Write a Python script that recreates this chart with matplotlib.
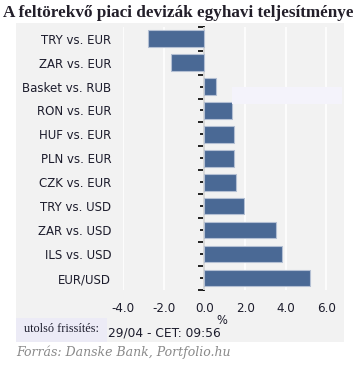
import matplotlib
matplotlib.use('Agg')
import matplotlib.pyplot as plt
from matplotlib.patches import Rectangle

labels = ['TRY vs. EUR', 'ZAR vs. EUR', 'Basket vs. RUB', 'RON vs. EUR', 'HUF vs. EUR',
          'PLN vs. EUR', 'CZK vs. EUR', 'TRY vs. USD', 'ZAR vs. USD', 'ILS vs. USD', 'EUR/USD']
values = [-2.79, -1.65, 0.56, 1.36, 1.44, 1.46, 1.56, 1.97, 3.54, 3.80, 5.17]
xticks = [-4.0, -2.0, 0.0, 2.0, 4.0, 6.0]

W, H = 359, 366
fig = plt.figure(figsize=(W / 100, H / 100), dpi=100)

def px(x0, y0, x1, y1):
    # pixel box -> figure fraction (left, bottom, width, height)
    return x0 / W, 1 - y1 / H, (x1 - x0) / W, (y1 - y0) / H

# gray panel behind the chart
l, b, w, h = px(16, 23, 344, 342)
fig.patches.append(Rectangle((l, b), w, h, transform=fig.transFigure,
                             facecolor='#f2f2f2', edgecolor='none', zorder=-1))

ax = fig.add_axes(px(123, 26.7, 344, 290))
ax.set_zorder(2)
ax.set_facecolor('none')
ypos = range(len(labels))
ax.barh(ypos, values, height=0.69, color='#4a6995', edgecolor='#b3bfd3', linewidth=0.8, zorder=3)
ax.set_ylim(len(labels) - 0.5, -0.5)
ax.set_xlim(-4, 6.86)

ax.set_yticks(list(ypos))
ax.set_yticklabels(labels)
ax.tick_params(axis='y', length=0, pad=8.5, labelsize=8.5, labelcolor='#1c1c2c')
ax.set_xticks(xticks)
ax.set_xticklabels(['%.1f' % t for t in xticks])
ax.tick_params(axis='x', length=0, pad=9, labelsize=8.6, labelcolor='#1c1c2c')
ax.grid(axis='x', color='white', linewidth=1.2, zorder=1)
for s in ax.spines.values():
    s.set_visible(False)

# zero axis with ticks
sec = ax.secondary_yaxis(0, transform=ax.transData)
sec.spines['left'].set_color('black')
sec.spines['left'].set_linewidth(1.3)
sec.set_yticks([i - 0.5 for i in range(len(labels) + 1)])
sec.set_yticks(list(ypos), minor=True)
sec.tick_params(which='major', length=4, width=1.2, color='black', labelleft=False)
sec.tick_params(which='minor', length=3, width=1.2, color='black', labelleft=False)

fig.text(221.5 / W, 1 - 320.5 / H, '%', ha='center', va='center', fontsize=8.3, color='#1c1c2c')

# stray tooltip box
l, b, w, h = px(231.5, 86.7, 342, 104.3)
ax.add_artist(Rectangle((l, b), w, h, transform=fig.transFigure, clip_on=False,
                        facecolor='#f4f3fb', edgecolor='none', zorder=5))

# update stamp
l, b, w, h = px(16, 318, 107, 342)
fig.patches.append(Rectangle((l, b), w, h, transform=fig.transFigure,
                             facecolor='#ecebf6', edgecolor='none', zorder=1))
fig.text(24 / W, 1 - 329 / H, 'utolsó frissítés:', ha='left', va='center',
         fontsize=8.8, family='Liberation Serif', color='#1c1c2c')
fig.text(108 / W, 1 - 332.5 / H, '29/04 - CET: 09:56', ha='left', va='center',
         fontsize=8.8, color='#1c1c2c')

fig.text(3 / W, 1 - 13 / H, 'A feltörekvő piaci devizák egyhavi teljesítménye', ha='left', va='center',
         fontsize=12.3, weight='bold', family='Liberation Serif', color='#231f2a')
fig.text(16 / W, 1 - 352 / H, 'Forrás: Danske Bank, Portfolio.hu', ha='left', va='center',
         fontsize=9.0, style='italic', family='DejaVu Serif', color='#8a8a8a')

fig.savefig('out.png', dpi=100)
